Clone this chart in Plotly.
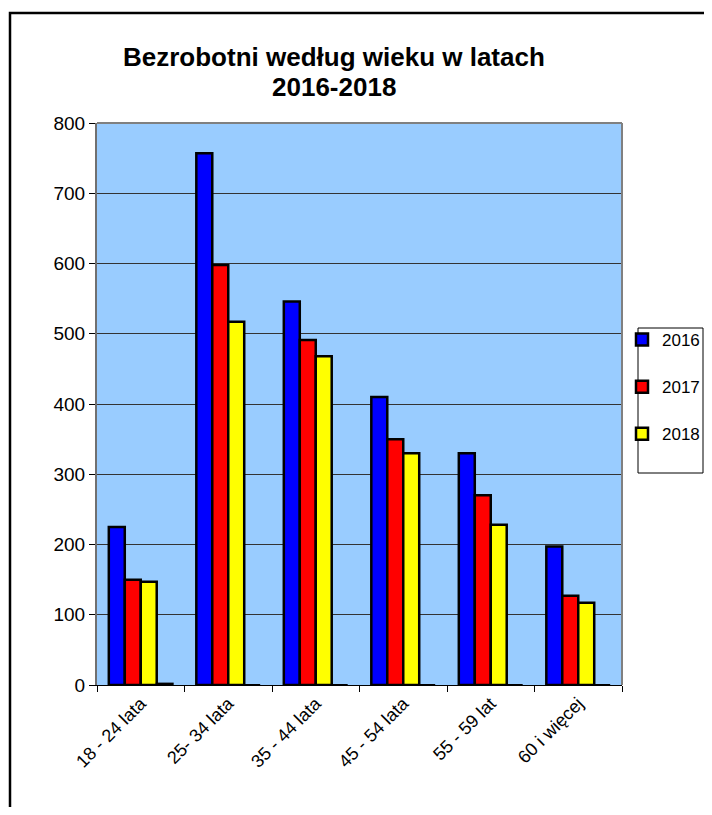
import plotly.graph_objects as go

categories = ["18 - 24 lata", "25- 34 lata", "35 - 44 lata", "45 - 54 lata", "55 - 59 lat", "60 i więcej"]
v2016 = [225, 757, 546, 410, 330, 197]
v2017 = [150, 598, 491, 350, 270, 127]
v2018 = [147, 517, 468, 330, 228, 117]
v_extra = [2, 0, 0, 0, 0, 0]
series_names = ["2016", "2017", "2018"]
colors = ["#0000FF", "#FF0000", "#FFFF00"]

OFF = 8  # page body margin
W, H = 712 - OFF, 815 - 2 * OFF
L, R, T, B = 97 - OFF, 622 - OFF, 123 - OFF, 685 - OFF

def px(x):  # page pixel -> paper x
    return (x - OFF - L) / (R - L)

def py(y):  # page pixel -> paper y
    return (B - (y - OFF)) / (B - T)

fig = go.Figure()
for i, (name, vals) in enumerate(zip(series_names, [v2016, v2017, v2018])):
    fig.add_trace(go.Bar(
        x=categories, y=vals, name=name, legendgroup=name,
        marker=dict(color=colors[i], line=dict(color="black", width=2.5)),
    ))
fig.add_trace(go.Bar(
    x=categories, y=v_extra, name="", showlegend=False,
    marker=dict(color="black", line=dict(color="black", width=2)),
))

title_font = dict(size=26, family="Liberation Sans, Arial", color="black")

fig.update_layout(
    width=W, height=H,
    margin=dict(l=L, r=W - R, t=T, b=H - B, autoexpand=False),
    paper_bgcolor="white",
    plot_bgcolor="#99CCFF",
    barmode="group",
    bargap=0.27,
    bargroupgap=0,
    font=dict(family="Liberation Sans, Arial", color="black"),
    showlegend=True,
    legend=dict(
        x=px(622), xanchor="left", y=py(322), yanchor="top",
        borderwidth=0, bgcolor="rgba(0,0,0,0)",
        font=dict(size=17, color="black"),
        traceorder="grouped", tracegroupgap=22,
        itemwidth=30,
    ),
    xaxis=dict(
        showline=True, linecolor="black", linewidth=1,
        ticks="outside", ticklen=6, tickcolor="black", tickson="boundaries",
        tickangle=-45, tickfont=dict(size=18, color="black"),
        showgrid=False,
    ),
    yaxis=dict(
        range=[0, 800], dtick=100,
        showline=True, linecolor="#707070", linewidth=2,
        ticks="outside", ticklen=6, tickcolor="black",
        tickfont=dict(size=19, color="black"),
        showgrid=True, gridcolor="#333333", gridwidth=1,
        zeroline=False,
    ),
    annotations=[
        dict(text="<b>Bezrobotni według wieku w latach</b>", xref="paper", yref="paper",
             x=px(334), y=py(57), xanchor="center", yanchor="middle",
             showarrow=False, font=title_font),
        dict(text="<b>2016-2018</b>", xref="paper", yref="paper",
             x=px(334), y=py(87), xanchor="center", yanchor="middle",
             showarrow=False, font=title_font),
    ],
    shapes=[
        dict(type="rect", xref="paper", yref="paper",
             x0=px(10), x1=px(730), y0=py(830), y1=py(13),
             line=dict(color="black", width=2.5), fillcolor="rgba(0,0,0,0)", layer="below"),
        dict(type="rect", xref="paper", yref="paper",
             x0=px(638), x1=px(703), y0=py(473), y1=py(328),
             line=dict(color="black", width=1), fillcolor="white", layer="below"),
        dict(type="line", xref="paper", yref="paper",
             x0=0, x1=1, y0=1, y1=1, line=dict(color="#808080", width=2)),
        dict(type="line", xref="paper", yref="paper",
             x0=1, x1=1, y0=0, y1=1, line=dict(color="#808080", width=2)),
    ],
)

fig.write_html("out.html")
